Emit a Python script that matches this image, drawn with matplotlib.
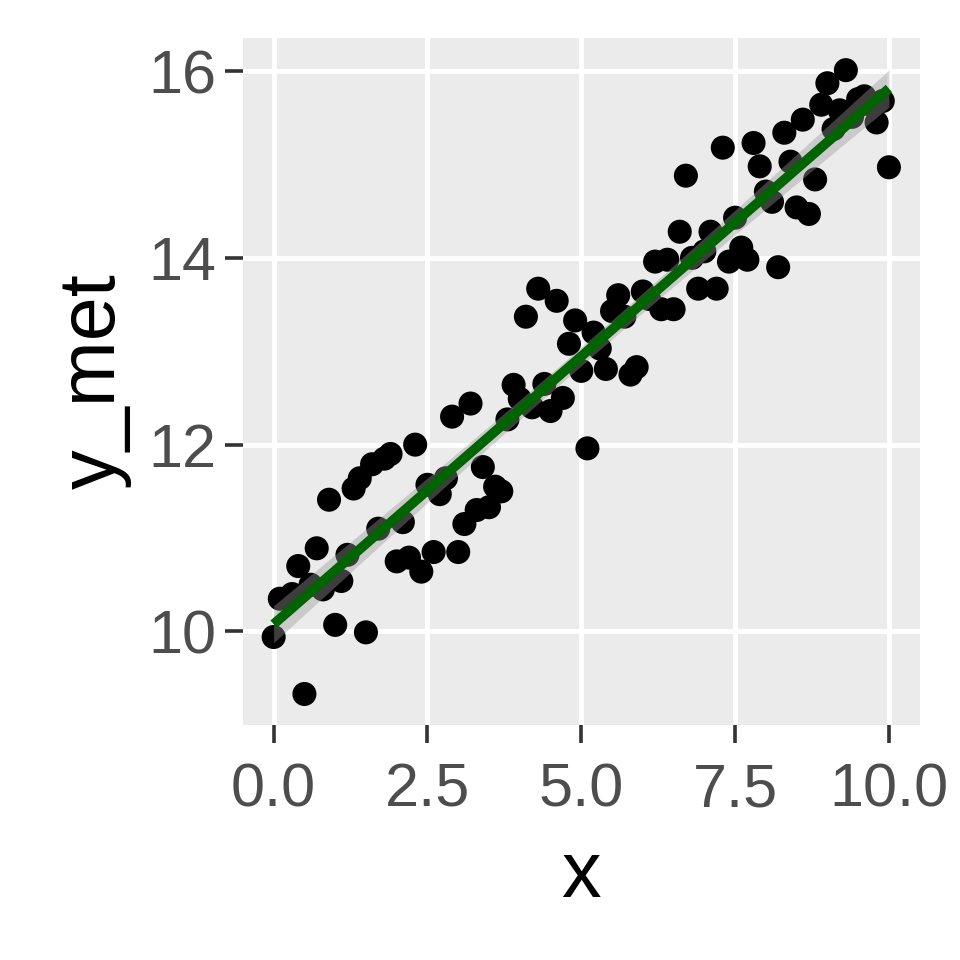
import numpy as np
import matplotlib
matplotlib.use("Agg")
import matplotlib.pyplot as plt

plt.rcParams["font.family"] = ["Liberation Sans", "DejaVu Sans"]

x = np.round(np.arange(0, 10.01, 0.1), 1)
y_met = [
    9.94, 10.35, 10.35, 10.40, 10.70, 9.33, 10.50, 10.89, 10.45, 11.41,
    10.07, 10.54, 10.82, 11.53, 11.64, 9.99, 11.79, 11.10, 11.85, 11.90,
    10.75, 11.17, 10.79, 12.00, 10.64, 11.57, 10.85, 11.47, 11.64, 12.30,
    10.85, 11.15, 12.44, 11.30, 11.76, 11.33, 11.55, 11.50, 12.27, 12.64,
    12.49, 13.37, 12.40, 13.67, 12.65, 12.36, 13.54, 12.50, 13.08, 13.33,
    12.79, 11.96, 13.20, 13.03, 12.81, 13.43, 13.60, 13.37, 12.75, 12.83,
    13.64, 13.56, 13.96, 13.45, 13.98, 13.45, 14.28, 14.88, 14.00, 13.67,
    14.07, 14.28, 13.67, 15.18, 13.96, 14.43, 14.11, 13.98, 15.23, 14.98,
    14.71, 14.60, 13.90, 15.34, 15.03, 14.54, 15.48, 14.47, 14.84, 15.64,
    15.87, 15.38, 15.58, 16.01, 15.51, 15.70, 15.73, 15.64, 15.45, 15.68,
    14.97,
]
x_ticks = [0.0, 2.5, 5.0, 7.5, 10.0]
x_labels = ["0.0", "2.5", "5.0", "7.5", "10.0"]
y_ticks = [10, 12, 14, 16]

x = np.asarray(x)
y = np.asarray(y_met)

# linear fit with 95% band (like geom_smooth(method = "lm"))
n = len(x)
b1, b0 = np.polyfit(x, y, 1)
resid = y - (b0 + b1 * x)
s = np.sqrt(np.sum(resid ** 2) / (n - 2))
xs = np.linspace(x.min(), x.max(), 80)
fit = b0 + b1 * xs
se = s * np.sqrt(1 / n + (xs - x.mean()) ** 2 / np.sum((x - x.mean()) ** 2))
tq = 1.984
lo, hi = fit - tq * se, fit + tq * se

fig = plt.figure(figsize=(9.6, 9.6), dpi=100)
ax = fig.add_axes([0.253, 0.245, 0.705, 0.715])
ax.set_facecolor("#EBEBEB")
for sp in ax.spines.values():
    sp.set_visible(False)

ax.scatter(x, y, s=300, color="black", edgecolors="none", zorder=3)
ax.fill_between(xs, lo, hi, color="#999999", alpha=0.4, linewidth=0, zorder=4)
ax.plot(xs, fit, color="#006400", linewidth=7, solid_capstyle="butt", zorder=5)

ax.set_xlim(-0.5, 10.5)
ax.set_ylim(9.0, 16.35)
ax.set_xticks(x_ticks)
ax.set_xticklabels(x_labels)
ax.set_yticks(y_ticks)
ax.grid(True, color="white", linewidth=3.5, zorder=0)
ax.set_axisbelow(True)
ax.tick_params(axis="both", length=13, width=2.6, color="#333333",
               labelsize=44, labelcolor="#4D4D4D", pad=6)
ax.tick_params(axis="x", pad=14)

ax.set_xlabel("x", fontsize=57, color="black", labelpad=14)
ax.set_ylabel("y_met", fontsize=57, color="black", labelpad=12)

fig.savefig("out.png", dpi=100, facecolor="white")
